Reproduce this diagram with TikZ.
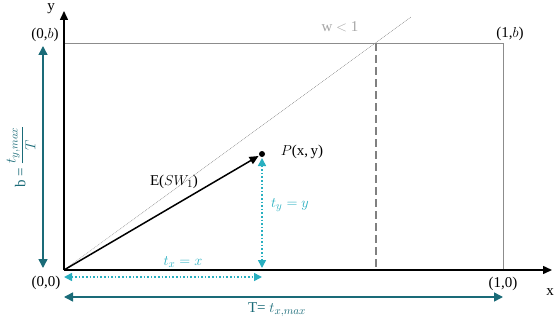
\documentclass[tikz,border=0pt]{standalone}
\usepackage{amsmath}
\usepackage{fontspec}
\setmainfont{Liberation Serif}
\usetikzlibrary{arrows.meta}
\definecolor{dteal}{HTML}{1A6B78}
\definecolor{lteal}{HTML}{29AFC0}
\definecolor{boxgray}{HTML}{8C8C8C}
\tikzset{
  axis/.style={draw=black, line width=1.5pt, -{Triangle[length=9pt,width=8pt]}},
  frame/.style={draw=boxgray, line width=0.9pt},
  diag/.style={draw=gray!80, densely dotted, line width=0.7pt},
  dashline/.style={draw=gray, line width=1.1pt, dash pattern=on 8pt off 4pt},
  darrow/.style={draw=dteal, line width=1.5pt, {Triangle[length=9pt,width=9pt]}-{Triangle[length=9pt,width=9pt]}},
  larrow/.style={draw=lteal, line width=1.6pt, dotted, {Triangle[length=8pt,width=8pt]}-{Triangle[length=8pt,width=8pt]}},
  varrow/.style={draw=black, line width=1.5pt, -{Triangle[length=9pt,width=8pt]}},
  lbl/.style={inner sep=1pt, font=\fontsize{15}{17}\selectfont},
}
\begin{document}
\begin{tikzpicture}[x=1pt,y=-1pt]
\useasboundingbox (0,0) rectangle (554,321);
\coordinate (O) at (64,270);
\coordinate (yend) at (64,11);
\coordinate (xend) at (552,270);
\coordinate (TL) at (64,43);
\coordinate (TR) at (503,43);
\coordinate (BR) at (503,270);
\coordinate (W) at (376,43);
\coordinate (WB) at (376,270);
\coordinate (Dend) at (411,17);
\coordinate (P) at (262,154);
% frame and guides
\draw[frame] (TL) -- (TR) -- (BR);
\draw[diag] (O) -- (Dend);
\draw[dashline] (W) -- (WB);
% axes
\draw[axis] (O) -- (xend);
\draw[axis] (O) -- (yend);
% point and vector
\fill (P) circle (3pt);
\draw[varrow, shorten >=4pt] (O) -- (P);
% teal measures
\coordinate (Ta) at (64,297);
\coordinate (Tb) at (503,297);
\draw[darrow] (Ta) -- (Tb);
\coordinate (Ba) at (43,46);
\coordinate (Bb) at (43,268);
\draw[darrow] (Ba) -- (Bb);
\coordinate (txa) at (64,277);
\coordinate (txb) at (262,277);
\draw[larrow] (txa) -- (txb);
\coordinate (tya) at (262,158);
\coordinate (tyb) at (262,268);
\draw[larrow] (tya) -- (tyb);
% labels
\node[lbl] (ylab) at (51,9) {y};
\node[lbl] (xlab) at (550,292) {x};
\node[lbl] (l0b) at (45,35) {(0,$b$)};
\node[lbl] (l1b) at (510,34) {(1,$b$)};
\node[lbl] (l00) at (46,283) {(0,0)};
\node[lbl] (l10) at (503,284) {(1,0)};
\node[lbl, text=gray!70] (wl) at (340,27) {w $<$ 1};
\node[lbl] (pl) at (302,152) {$P$(x,\,y)};
\node[lbl] (el) at (174,182) {E($SW_1$)};
\node[lbl, text=lteal] (tyl) at (290,205) {$t_y = y$};
\node[lbl, text=lteal] (txl) at (183,262) {$t_x = x$};
\node[lbl, text=dteal] (Tl) at (277,310) {T= $t_{x,max}$};
\node[lbl, text=dteal, rotate=90] (bl) at (21,157) {b = $\dfrac{t_{y,max}}{T}$};
\end{tikzpicture}
\end{document}
